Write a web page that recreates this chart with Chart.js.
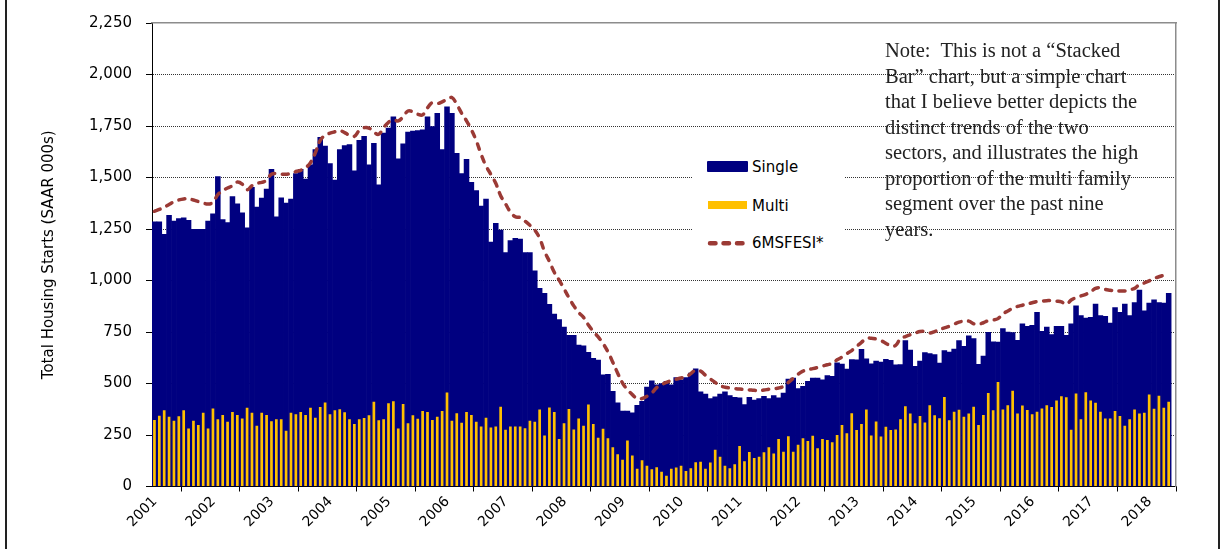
<!DOCTYPE html>
<html><head><meta charset="utf-8">
<script src="https://cdn.jsdelivr.net/npm/chart.js@4.4.1/dist/chart.umd.min.js"></script>
<style>
html,body{margin:0;padding:0;background:#fff;}
#wrap{position:relative;width:1220px;height:549px;overflow:hidden;background:#fff;}
#c{position:absolute;left:0;top:0;}
#frame{position:absolute;left:5px;top:0;width:1215px;height:549px;border-left:2px solid #222;border-right:2px solid #222;box-sizing:border-box;pointer-events:none;}
#legend{position:absolute;left:692px;top:138px;width:152px;height:122px;background:#fff;font-family:'DejaVu Sans',sans-serif;font-size:15px;color:#000;}
#legend .sw{position:absolute;}
#legend .tx{position:absolute;left:60px;line-height:18px;white-space:nowrap;}
#note{position:absolute;left:885px;top:38px;font-family:'Liberation Serif',serif;font-size:20.5px;line-height:25.5px;color:#222;white-space:pre;}
</style></head>
<body><div id="wrap">
<canvas id="c" width="1220" height="549"></canvas>
<div id="legend">
  <div class="sw" style="left:15px;top:23px;width:41px;height:11px;background:#000080;border-radius:1px;"></div>
  <div class="tx" style="top:19.5px;">Single</div>
  <div class="sw" style="left:16px;top:63px;width:39px;height:8px;background:#FFC000;"></div>
  <div class="tx" style="top:59px;">Multi</div>
  <svg class="sw" style="left:12px;top:100px;" width="46" height="11"><line x1="6" y1="5.3" x2="42" y2="5.3" stroke="#9B3A35" stroke-width="4.5" stroke-linecap="round" stroke-dasharray="5.5 8"/></svg>
  <div class="tx" style="top:96px;">6MSFESI*</div>
</div>
<div id="note">Note:  This is not a “Stacked
Bar” chart, but a simple chart
that I believe better depicts the
distinct trends of the two
sectors, and illustrates the high
proportion of the multi family
segment over the past nine
years.</div>
<div id="frame"></div>
</div>
<script>
const years = ['2001','2002','2003','2004','2005','2006','2007','2008','2009','2010','2011','2012','2013','2014','2015','2016','2017','2018'];
const yTicks = [0,250,500,750,1000,1250,1500,1750,2000,2250];
const nSlots = 210;

const single = [
 1285,1285,1224,1316,1289,1300,1304,1292,1249,1249,1248,1288,
 1324,1505,1296,1281,1407,1372,1328,1256,1452,1356,1400,1444,
 1540,1309,1401,1376,1395,1519,1540,1492,1561,1636,1695,1652,
 1567,1487,1636,1655,1660,1532,1680,1700,1561,1666,1465,1716,
 1740,1795,1591,1663,1720,1725,1728,1732,1795,1747,1811,1636,
 1843,1811,1617,1519,1588,1476,1436,1361,1395,1186,1277,1245,
 1136,1194,1205,1201,1136,1136,1047,962,938,884,837,810,
 774,734,734,686,683,651,622,614,542,545,462,406,
 366,366,358,394,414,483,513,494,500,510,494,529,
 518,529,550,571,459,449,427,435,449,459,441,433,
 430,398,433,419,427,438,427,441,430,454,521,526,
 475,486,510,526,526,518,539,535,600,594,570,616,
 615,666,620,595,609,604,617,612,591,592,708,662,
 583,609,650,645,640,599,660,653,667,708,680,731,
 718,593,633,749,702,701,766,750,747,710,790,778,
 782,845,753,774,737,777,778,734,790,877,830,818,
 821,885,830,826,793,868,845,885,830,893,954,853,
 890,906,893,890,938
];
const multi = [
 323,344,370,338,319,341,370,282,319,299,358,282,
 379,327,347,314,362,347,330,382,358,295,358,347,
 317,327,327,271,358,351,362,347,382,334,386,408,
 351,370,375,360,327,303,327,332,346,411,322,327,
 404,414,281,400,307,346,329,366,362,323,338,366,
 456,319,355,309,362,347,314,291,334,287,291,387,
 275,291,291,291,283,319,314,374,247,384,362,231,
 307,376,277,330,295,398,303,237,280,234,191,156,
 130,223,151,86,128,101,84,94,72,52,86,92,
 101,75,89,118,120,86,116,179,145,101,89,108,
 197,123,168,138,144,166,191,160,230,169,244,169,
 203,234,221,246,186,231,226,215,250,299,259,355,
 274,303,374,247,315,243,290,274,277,326,389,354,
 307,342,311,395,346,331,435,322,363,373,338,354,
 387,298,347,454,370,507,374,395,465,354,393,371,
 351,363,379,395,386,418,438,433,275,451,326,457,
 418,406,363,330,330,366,342,295,326,374,354,358,
 446,378,441,382,411
];
const msfesi = [
 1336,1345,1356,1369,1382,1391,1396,1396,1391,1383,1376,1371,
 1380,1417,1436,1449,1460,1478,1468,1441,1460,1472,1476,1487,
 1516,1519,1516,1516,1519,1529,1535,1548,1572,1620,1680,1705,
 1715,1722,1728,1718,1705,1700,1728,1742,1740,1720,1710,1742,
 1768,1780,1775,1795,1823,1819,1807,1804,1838,1864,1859,1867,
 1880,1888,1855,1812,1775,1732,1679,1612,1556,1515,1472,1412,
 1372,1333,1309,1306,1288,1268,1245,1205,1141,1093,1040,1002,
 960,917,877,845,821,784,753,726,694,654,603,550,
 502,470,446,427,427,438,454,480,495,505,515,521,
 527,532,548,565,560,540,522,505,490,482,478,475,
 473,471,469,467,466,468,472,475,478,486,505,525,
 545,560,567,572,578,585,591,598,615,628,645,660,
 680,700,718,720,716,708,695,684,685,718,728,737,
 745,752,753,745,752,762,770,778,788,798,802,803,
 790,788,795,805,808,815,838,852,865,874,880,886,
 892,898,900,902,903,900,896,885,905,917,925,933,
 945,962,965,957,953,949,949,949,955,962,980,988,
 998,1010,1018,1025,1025
];

const toPts = arr => arr.map((v,i)=>({x:i+0.5,y:v}));
const FONT = 'DejaVu Sans';

new Chart(document.getElementById('c'), {
  type:'bar',
  data:{datasets:[
    {type:'line', label:'6MSFESI*', data:toPts(msfesi), borderColor:'#9B3A35', borderWidth:3.5,
     borderDash:[6,7.5], borderCapStyle:'round', pointRadius:0, tension:0.4, fill:false, order:0},
    {label:'Multi', data:toPts(multi), backgroundColor:'#FFC000', borderWidth:0, grouped:false,
     barPercentage:0.55, categoryPercentage:1, order:1},
    {label:'Single', data:toPts(single), backgroundColor:'#000080', borderWidth:0, grouped:false,
     barPercentage:1, categoryPercentage:1, order:2}
  ]},
  options:{
    responsive:false, animation:false,
    layout:{padding:{left:0,right:44,top:16,bottom:0}},
    plugins:{legend:{display:false}, tooltip:{enabled:false}},
    scales:{
      x:{type:'linear', position:'bottom', min:0, max:nSlots, offset:false,
        afterBuildTicks: ax => { ax.ticks = years.map((y,i)=>({value:i*12})); },
        ticks:{autoSkip:false, minRotation:45, maxRotation:45, padding:2, labelOffset:3, color:'#000',
          font:{family:FONT,size:14}, callback:v => years[Math.round(v/12)]},
        grid:{drawOnChartArea:false, drawTicks:true, tickLength:5, tickColor:'#000', tickWidth:1},
        border:{display:true, color:'#000', width:1},
        afterFit: s => { s.height = 62.5; }
      },
      y:{type:'linear', position:'left', min:0, max:2250,
        afterBuildTicks: ax => { ax.ticks = yTicks.map(v=>({value:v})); },
        ticks:{padding:14, color:'#000', font:{family:FONT,size:15},
          callback:v => Number(v).toLocaleString('en-US')},
        grid:{drawOnChartArea:true, drawTicks:true, tickLength:6, tickColor:'#000', lineWidth:1,
          color: c => (c.tick && (c.tick.value===0 || c.tick.value===2250)) ? 'rgba(0,0,0,0)' : '#333'},
        border:{display:true, color:'#000', width:1, dash:[1,1]},
        title:{display:true, text:'Total Housing Starts (SAAR 000s)', color:'#000',
          font:{family:FONT,size:15}, padding:{top:40,bottom:0}},
        afterFit: s => { s.width = 152; }
      },
      y2:{type:'linear', position:'right', min:0, max:1, ticks:{display:false},
        grid:{drawOnChartArea:false, drawTicks:false}, border:{display:true,color:'#8c8c8c',width:1.5},
        afterFit: s => { s.width = 0; }},
      x2:{type:'linear', position:'top', min:0, max:1, ticks:{display:false},
        grid:{drawOnChartArea:false, drawTicks:false}, border:{display:true,color:'#8c8c8c',width:1.5},
        afterFit: s => { s.height = 0; }}
    }
  }
});
</script>
</body></html>
